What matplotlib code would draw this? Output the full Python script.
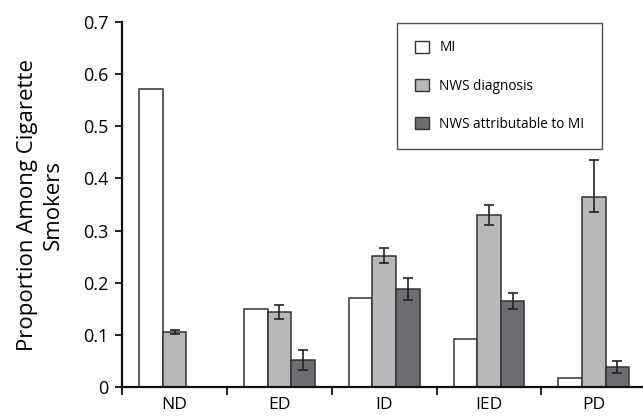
import numpy as np
import matplotlib.pyplot as plt
from matplotlib.patches import Patch

# Categories and series values
categories = ["ND", "ED", "ID", "IED", "PD"]
mi = [0.571, 0.150, 0.170, 0.093, 0.017]
nws_diag = [0.106, 0.144, 0.252, 0.330, 0.365]
nws_diag_err_lo = [0.004, 0.013, 0.014, 0.019, 0.029]
nws_diag_err_hi = [0.004, 0.013, 0.014, 0.019, 0.070]
nws_attr = [np.nan, 0.052, 0.189, 0.165, 0.039]
nws_attr_err = [0.0, 0.020, 0.021, 0.015, 0.011]
series_labels = ["MI", "NWS diagnosis", "NWS attributable to MI"]

plt.rcParams["font.family"] = ["Open Sans", "DejaVu Sans"]

fig = plt.figure(figsize=(6.43, 4.19), dpi=100)
ax = fig.add_axes([0.19, 0.076, 0.815, 0.8715])

x = np.arange(len(categories))
w = 0.225
edge = "#333333"
err_kw = dict(ecolor="#222222", elinewidth=1.2, capsize=3.5, capthick=1.2)

ax.bar(x - w, mi, w, color="white", edgecolor=edge, linewidth=1.1, label=series_labels[0])
ax.bar(x, nws_diag, w, color="#b7b8ba", edgecolor=edge, linewidth=1.1,
       yerr=[nws_diag_err_lo, nws_diag_err_hi], error_kw=err_kw, label=series_labels[1])
attr_x = x[1:] + w
ax.bar(attr_x, nws_attr[1:], w, color="#6d6e71", edgecolor=edge, linewidth=1.1,
       yerr=nws_attr_err[1:], error_kw=err_kw, label=series_labels[2])

ax.set_xlim(-0.5, len(categories) - 0.5)
ax.set_ylim(0, 0.7)
ax.set_yticks(np.arange(0, 0.71, 0.1))
ax.set_yticklabels(["0"] + [f"{v:.1f}" for v in np.arange(0.1, 0.71, 0.1)], fontsize=13)

# category labels centered, ticks at boundaries (Excel style)
ax.set_xticks(np.arange(-0.5, len(categories) + 0.5, 1.0))
ax.set_xticklabels([])
ax.set_xticks(x, minor=True)
ax.set_xticklabels(categories, minor=True, fontsize=12.5)
ax.tick_params(axis="x", which="minor", length=0, pad=7)
ax.tick_params(axis="x", which="major", length=6, width=1.2, direction="out")
ax.tick_params(axis="y", length=5, width=1.2, direction="out", pad=5)

for s in ["top", "right"]:
    ax.spines[s].set_visible(False)
for s in ["left", "bottom"]:
    ax.spines[s].set_linewidth(1.6)
    ax.spines[s].set_color("#111111")

ax.set_ylabel("Proportion Among Cigarette\nSmokers", fontsize=16, labelpad=14,
              linespacing=1.3)

handles = [Patch(facecolor="white", edgecolor=edge),
           Patch(facecolor="#b7b8ba", edgecolor=edge),
           Patch(facecolor="#6d6e71", edgecolor=edge)]
leg = ax.legend(handles, series_labels, loc="upper left",
                bbox_to_anchor=(0.525, 0.998), frameon=True, fancybox=False,
                fontsize=9.8, labelspacing=1.7, handlelength=1.0, handleheight=1.0,
                borderpad=1.3, handletextpad=0.8, borderaxespad=0.0)
leg.get_frame().set_edgecolor("#222222")
leg.get_frame().set_linewidth(1.0)

fig.savefig("out.png", dpi=100)
